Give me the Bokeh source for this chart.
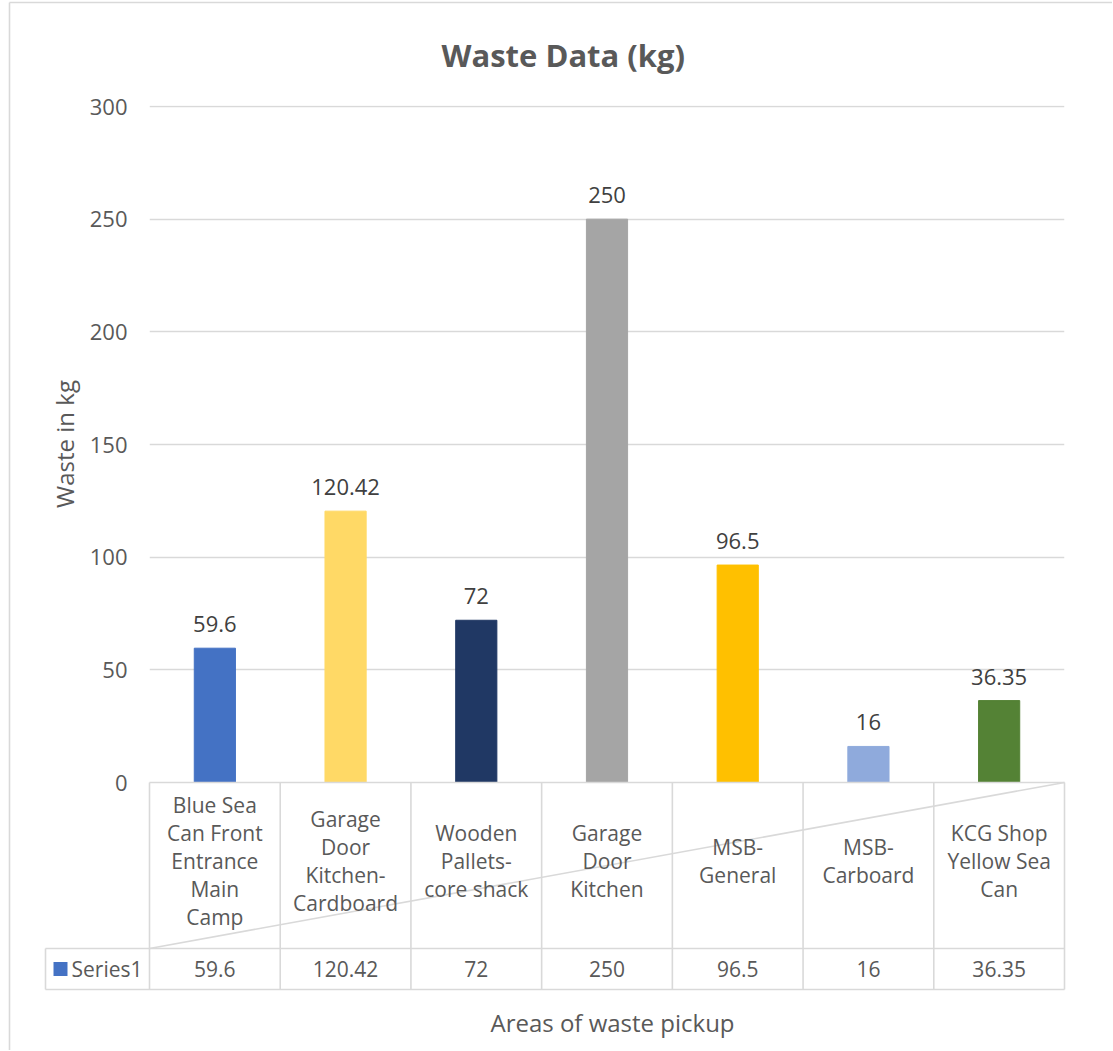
from bokeh.plotting import figure
from bokeh.models import Range1d, FactorRange, ColumnDataSource, FixedTicker, LinearScale
from bokeh.core.properties import value
from bokeh.embed import file_html
from bokeh.resources import INLINE

# ---- data ----
categories = [
    "Blue Sea Can Front Entrance Main Camp",
    "Garage Door Kitchen-Cardboard",
    "Wooden Pallets-core shack",
    "Garage Door Kitchen",
    "MSB-General",
    "MSB-Carboard",
    "KCG Shop Yellow Sea Can",
]
category_labels = [
    "Blue Sea\nCan Front\nEntrance\nMain\nCamp",
    "Garage\nDoor\nKitchen-\nCardboard",
    "Wooden\nPallets-\ncore shack",
    "Garage\nDoor\nKitchen",
    "MSB-\nGeneral",
    "MSB-\nCarboard",
    "KCG Shop\nYellow Sea\nCan",
]
waste_kg = [59.6, 120.42, 72, 250, 96.5, 16, 36.35]
bar_colors = ["#4472C4", "#FFD966", "#203864", "#A5A5A5", "#FFC000", "#8FAADC", "#548235"]
series_name = "Series1"
y_ticks = [0, 50, 100, 150, 200, 250, 300]
title_text = "Waste Data (kg)"
y_title = "Waste in kg"
x_title = "Areas of waste pickup"

# ---- style ----
FONT = "Open Sans"
GREY = "#595959"
DARK = "#404040"
LINE = "#D9D9D9"
FW, FH = 915, 677
ML, MR, MT, MB = 149, 48, 105, 268
N = len(categories)
CW = FW / N  # pixel width of one category cell
Y_END = 300 * FH / 676  # 300 sits 1px below the frame top so its gridline shows

def sx(px):
    """pixel offset from the frame's left edge -> synthetic categorical coordinate"""
    return px / CW

value_labels = [f"{v:g}" for v in waste_kg]

p = figure(
    x_range=FactorRange(factors=categories),
    y_range=Range1d(0, Y_END),
    frame_width=FW, frame_height=FH,
    min_border_left=ML, min_border_right=MR, min_border_top=MT, min_border_bottom=MB,
    output_backend="svg", toolbar_location=None,
    title=title_text,
)
p.extra_y_ranges = {"px": Range1d(0, FH)}
p.extra_y_scales = {"px": LinearScale()}

p.outline_line_color = None
p.background_fill_color = "white"
p.border_fill_color = "white"

# title
p.title.text_font = FONT
p.title.text_font_size = "31px"
p.title.text_font_style = "bold"
p.title.text_color = GREY
p.title.align = "left"
p.title.offset = 292
p.title.standoff = 59

# axes
p.xaxis.visible = False
p.xgrid.visible = False
p.yaxis.ticker = FixedTicker(ticks=y_ticks)
p.ygrid.ticker = FixedTicker(ticks=y_ticks)
p.ygrid.grid_line_color = LINE
p.ygrid.grid_line_width = 1.5
p.yaxis.axis_line_color = None
p.yaxis.major_tick_line_color = None
p.yaxis.minor_tick_line_color = None
p.yaxis.major_tick_out = 0
p.yaxis.major_tick_in = 0
p.yaxis.minor_tick_out = 0
p.yaxis.major_label_standoff = 22
p.yaxis.major_label_text_font = FONT
p.yaxis.major_label_text_font_size = "22px"
p.yaxis.major_label_text_color = GREY
p.yaxis.axis_label = y_title
p.yaxis.axis_label_text_font = FONT
p.yaxis.axis_label_text_font_size = "24px"
p.yaxis.axis_label_text_font_style = "normal"
p.yaxis.axis_label_text_color = GREY
p.yaxis.axis_label_standoff = 6

# bars
src = ColumnDataSource(dict(cat=categories, val=waste_kg, color=bar_colors,
                            lab=value_labels, clab=category_labels))
p.vbar(x="cat", top="val", width=0.315, color="color", source=src)

# data labels
p.text(x="cat", y="val", text="lab", source=src, y_offset=-16,
       text_align="center", text_baseline="bottom",
       text_font=value(FONT), text_font_size="22px", text_color=DARK)

# ---- data table beneath the plot ----
hdr_left = sx(-104)
row1 = -166
row2 = -207
x0 = [0, hdr_left, hdr_left, hdr_left, 0]
y0 = [0, row1, row2, row1, row1]
x1 = [N, N, N, hdr_left, N]
y1 = [0, row1, row2, row2, 0]
for k in range(N + 1):
    x0.append(k); y0.append(0)
    x1.append(k); y1.append(row2)
# chart outer border (left / top)
top_b = FH + MT - 2
x0 += [sx(-140), sx(-140)]; y0 += [top_b, top_b]
x1 += [sx(-140), sx(FW + MR)]; y1 += [-MB, top_b]
p.segment(x0=x0, y0=y0, x1=x1, y1=y1, line_color=LINE, line_width=1.6,
          y_range_name="px", level="overlay")

p.text(x="cat", y=-78, text="clab", source=src, y_range_name="px", level="overlay",
       text_align="center", text_baseline="middle", text_line_height=1.0,
       text_font=value(FONT), text_font_size="21px", text_color=GREY)
row_mid = (row1 + row2) / 2
p.text(x="cat", y=row_mid, text="lab", source=src, y_range_name="px",
       level="overlay", text_align="center", text_baseline="middle",
       text_font=value(FONT), text_font_size="21px", text_color=GREY)

# series key: small blue square + name
p.segment(x0=[sx(-96)], y0=[row_mid], x1=[sx(-82)], y1=[row_mid],
          line_color=bar_colors[0], line_width=14, line_cap="butt",
          y_range_name="px", level="overlay")
p.text(x=[sx(-78)], y=[row_mid], text=[series_name],
       y_range_name="px", level="overlay", text_align="left", text_baseline="middle",
       text_font=value(FONT), text_font_size="21px", text_color=GREY)

# category axis title
p.text(x=[sx(463)], y=[-240], text=[x_title], y_range_name="px", level="overlay",
       text_align="center", text_baseline="middle",
       text_font=value(FONT), text_font_size="24px", text_color=GREY)

open("out.html", "w").write(file_html(p, INLINE))
